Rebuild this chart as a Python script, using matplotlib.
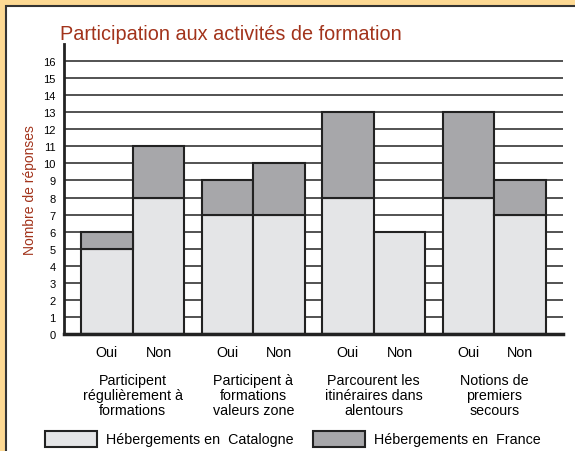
import numpy as np
import matplotlib.pyplot as plt
from matplotlib.patches import Rectangle
import matplotlib.transforms as mtransforms

plt.rcParams['font.family'] = ['Liberation Sans', 'DejaVu Sans']

W, H = 575, 452

groups = ['Participent\nrégulièrement à\nformations',
          'Participent à\nformations\nvaleurs zone',
          'Parcourent les\nitinéraires dans\nalentours',
          'Notions de\npremiers\nsecours']
answers = ['Oui', 'Non']
catalogne = [5, 8, 7, 7, 8, 6, 8, 7]
france = [1, 3, 2, 3, 5, 0, 5, 2]
yticks = list(range(0, 17))

LIGHT = '#e4e5e7'
DARK = '#a7a7aa'
RED = '#a2331b'


def fx(x):
    return x / W


def fy(y):
    return 1 - y / H


fig = plt.figure(figsize=(W / 100, H / 100), dpi=100)
fig.patch.set_facecolor('#fdd993')
fig.patches.append(Rectangle((fx(6), -0.1), 1.2, fy(7) + 0.1, transform=fig.transFigure,
                             facecolor='white', edgecolor='#333333', lw=1.5, zorder=-10))

ax = fig.add_axes([fx(64), fy(335), fx(563) - fx(64), fy(45) - fy(335)])
ax.set_facecolor('none')

spacing = 2.33
pos = []
for g in range(len(groups)):
    pos += [g * spacing + 0.5, g * spacing + 1.5]
pos = np.array(pos)

for y in yticks[1:]:
    ax.axhline(y, color='#444444', lw=1.3, zorder=1)

ax.bar(pos, catalogne, width=1.0, color=LIGHT, edgecolor='#222222', lw=1.5, zorder=2)
bottoms = np.array(catalogne)
tops = np.array(france)
mask = tops > 0
ax.bar(pos[mask], tops[mask], bottom=bottoms[mask], width=1.0, color=DARK,
       edgecolor='#222222', lw=1.5, zorder=2)

ax.set_xlim(-0.33, 3 * spacing + 2.33)
ax.set_ylim(0, 17)
ax.set_yticks(yticks)
ax.tick_params(axis='y', length=0, labelsize=8, pad=6)
ax.set_xticks([])
for s in ['top', 'right']:
    ax.spines[s].set_visible(False)
ax.spines['left'].set_linewidth(2)
ax.spines['bottom'].set_linewidth(2.5)
ax.spines['left'].set_color('#222222')
ax.spines['bottom'].set_color('#222222')

tr = mtransforms.blended_transform_factory(ax.transData, fig.transFigure)
for i, p in enumerate(pos):
    ax.text(p, fy(353), answers[i % 2], transform=tr, ha='center', va='center', fontsize=10.3)
for g, lab in enumerate(groups):
    ax.text(g * spacing + 1, fy(396), lab, transform=tr, ha='center', va='center',
            fontsize=10.3, linespacing=1.12)

fig.text(fx(60), fy(34), 'Participation aux activités de formation', color=RED,
         fontsize=14.3, ha='left', va='center')
fig.text(fx(30), fy(190), 'Nombre de réponses', color=RED, fontsize=10,
         rotation=90, ha='center', va='center')

legend_items = [(45, 'Hébergements en  Catalogne', LIGHT), (313, 'Hébergements en  France', DARK)]
for x0, lab, c in legend_items:
    fig.patches.append(Rectangle((fx(x0), fy(448)), fx(52), 16 / H, transform=fig.transFigure,
                                 facecolor=c, edgecolor='#222222', lw=1.5))
    fig.text(fx(x0 + 61), fy(440), lab, fontsize=10.3, ha='left', va='center')

fig.savefig('out.png', dpi=100, facecolor=fig.get_facecolor())
